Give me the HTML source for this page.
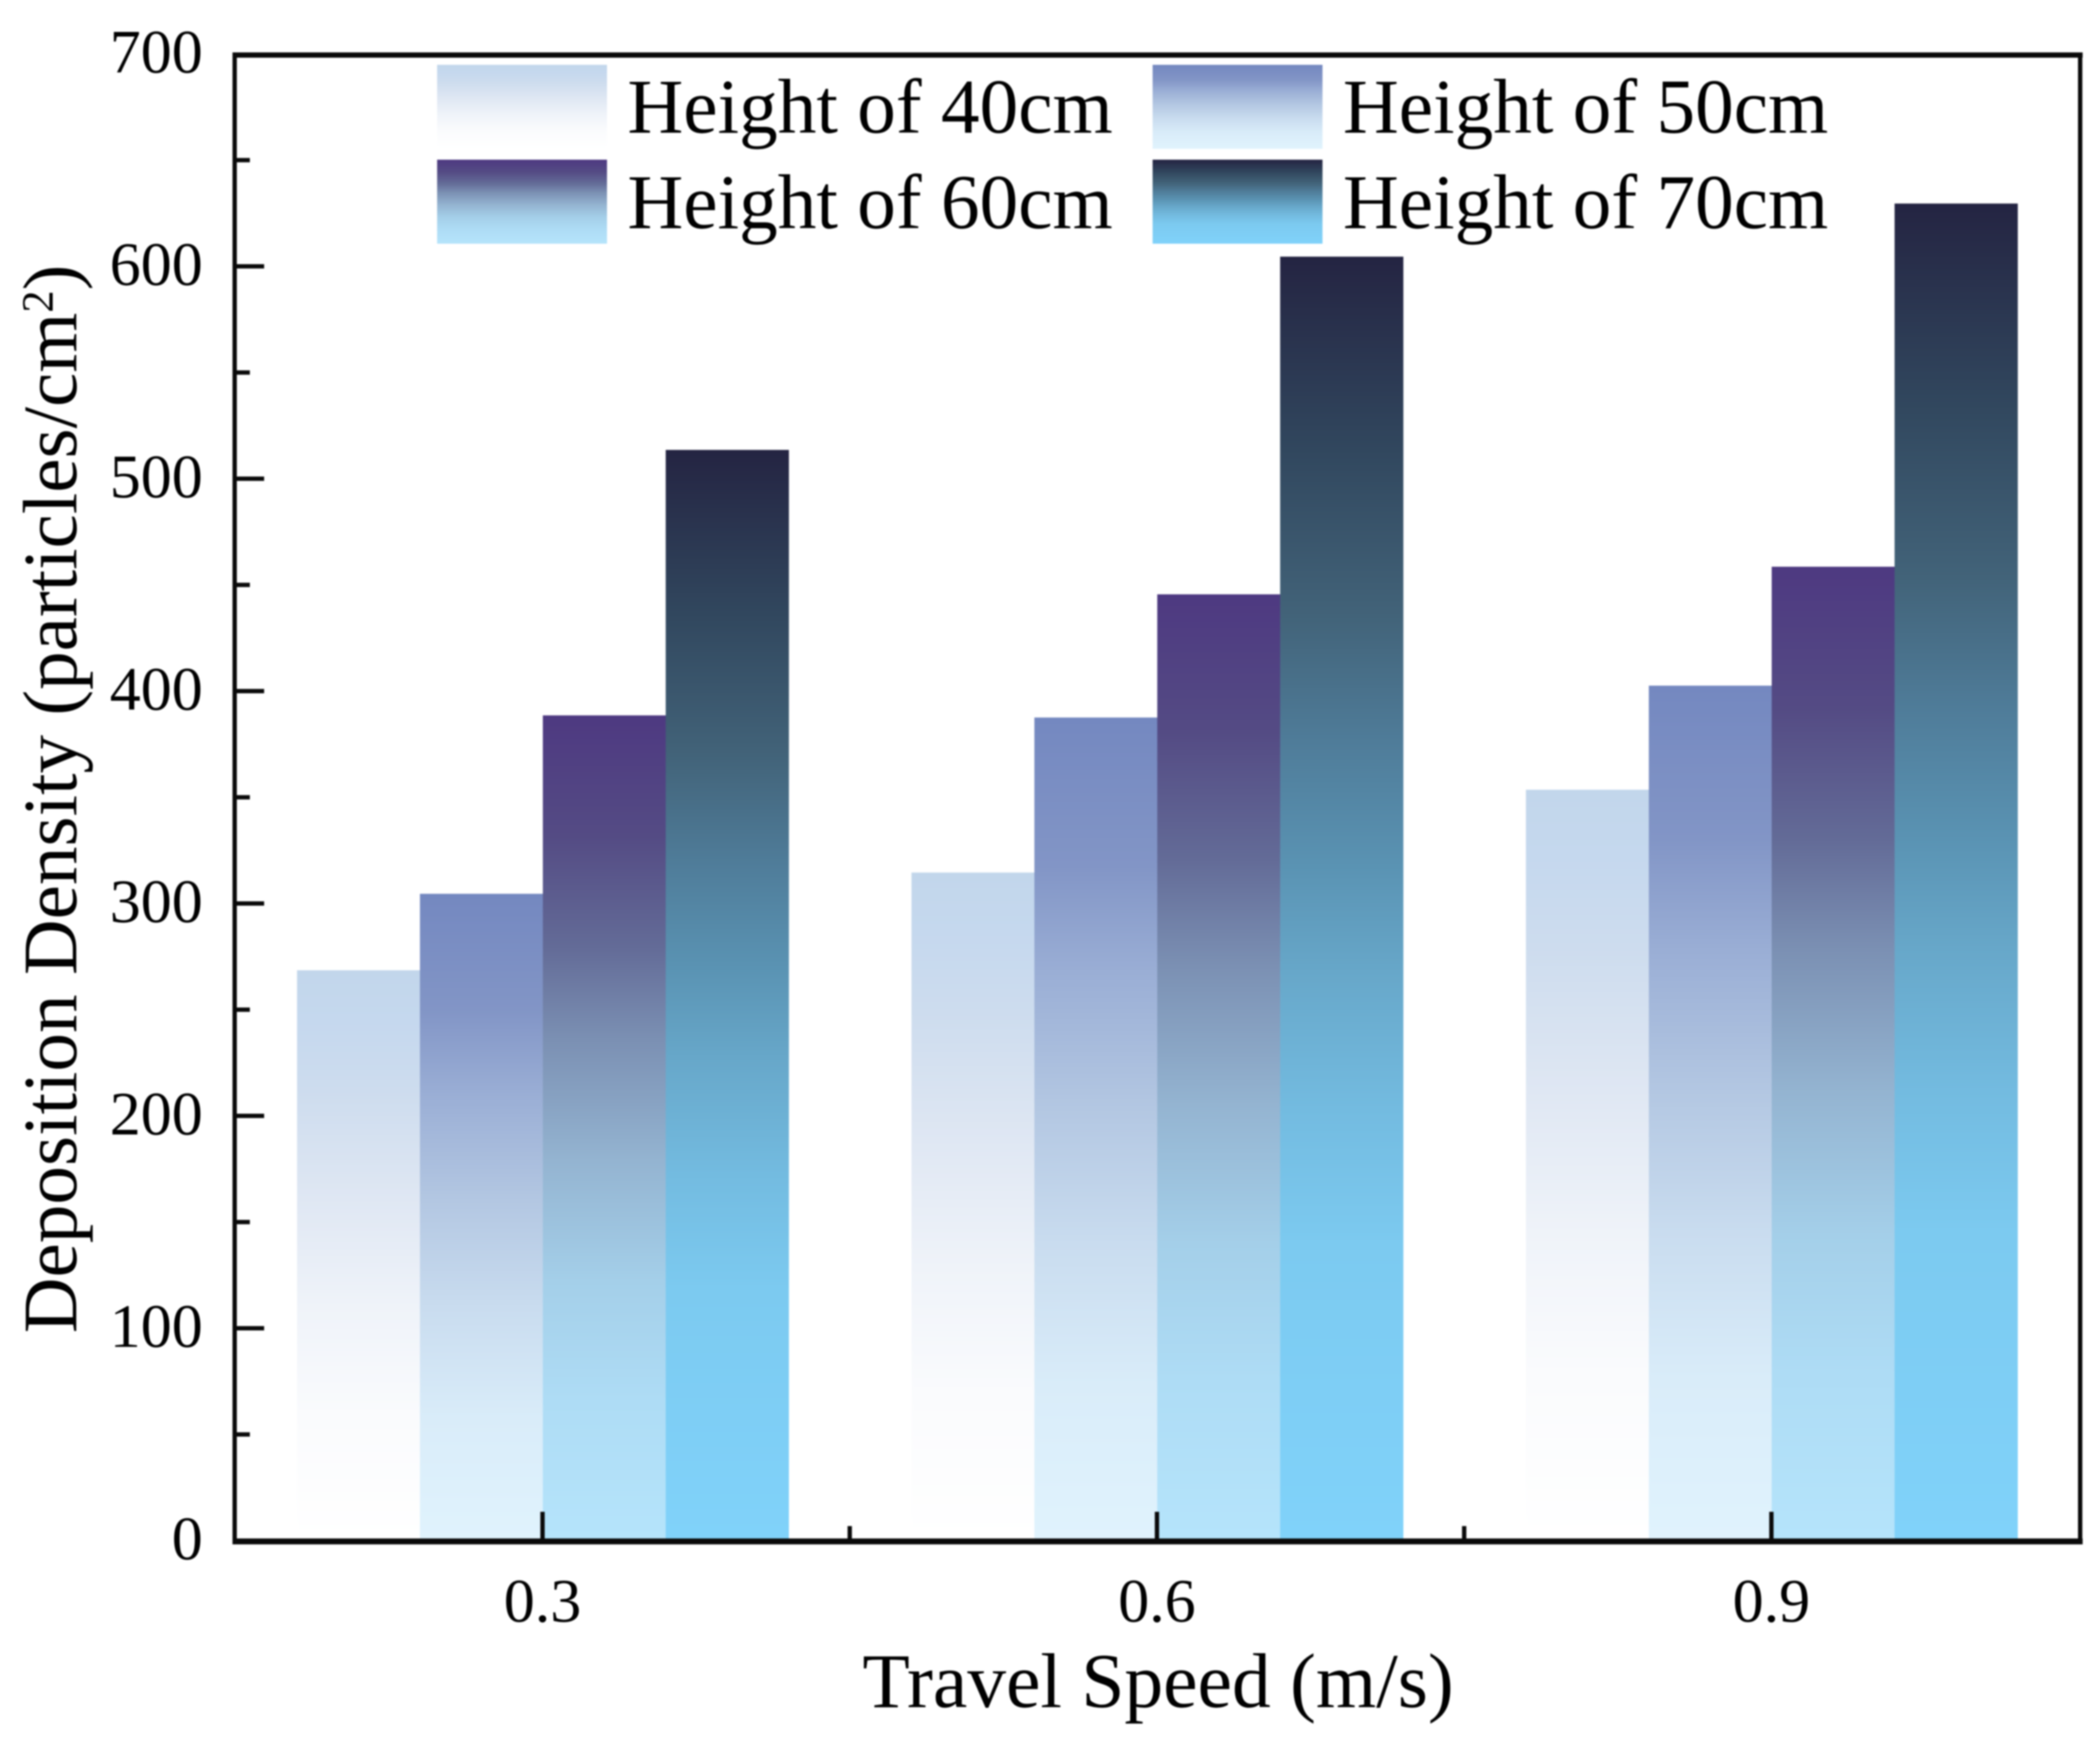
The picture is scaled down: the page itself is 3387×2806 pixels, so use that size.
<!DOCTYPE html>
<html lang="en">
<head>
<meta charset="utf-8">
<title>Deposition Density vs Travel Speed</title>
<style>
html,body{margin:0;padding:0;background:#fff;}
#chart{display:block;width:3387px;height:2806px;filter:blur(1.4px);}
text{font-family:"Liberation Serif",serif;fill:#000;}
</style>
</head>
<body>
<svg id="chart" xmlns="http://www.w3.org/2000/svg" width="3387" height="2806" viewBox="0 0 3387 2806">
  <defs id="grad-defs"></defs>
  <rect x="0" y="0" width="3387" height="2806" fill="#fff"/>
  <g id="bars"></g>
  <g id="frame">
    <rect x="375" y="84.5" width="2984" height="8.5" fill="#0a0a0a"/>
    <rect x="375" y="84.5" width="7" height="2406" fill="#0a0a0a"/>
    <rect x="3351.5" y="84.5" width="7" height="2406" fill="#0a0a0a"/>
    <rect x="375" y="2481" width="2984" height="9.5" fill="#0a0a0a"/>
  </g>
  <g id="y-ticks"></g>
  <g id="x-ticks"></g>
  <text transform="translate(123 2150) rotate(-90)" font-size="124.5">Deposition Density (particles/cm<tspan font-size="72" dy="-38">2</tspan><tspan dy="38">)</tspan></text>
  <text x="1391" y="2753" font-size="125">Travel Speed (m/s)</text>
  <g id="legend"></g>
</svg>
<script>
const categories = ['0.3', '0.6', '0.9'];
const seriesNames = ['Height of 40cm', 'Height of 50cm', 'Height of 60cm', 'Height of 70cm'];
const height40 = [269, 315, 354];
const height50 = [305, 388, 403];
const height60 = [389, 446, 459];
const height70 = [514, 605, 630];
const yTickLabels = [0, 100, 200, 300, 400, 500, 600, 700];
const yMinorTicks = [50, 150, 250, 350, 450, 550, 650];

const seriesValues = [height40, height50, height60, height70];
const gradientStops = [
  [[0,'#c2d6eb'],[0.09,'#c5d8ee'],[0.21,'#cddcee'],[0.40,'#dfe7f3'],[0.59,'#eff3f9'],[0.78,'#fafbfd'],[1,'#ffffff']],
  [[0,'#7488c0'],[0.18,'#8295c6'],[0.31,'#9aaed5'],[0.475,'#b3c7e2'],[0.64,'#c9dcef'],[0.81,'#d9ecf9'],[1,'#e0f3fd']],
  [[0,'#4e3981'],[0.146,'#544b84'],[0.28,'#636b97'],[0.393,'#7b90b3'],[0.54,'#94b4d1'],[0.686,'#a4cfe9'],[0.83,'#aedcf5'],[1,'#b5e4fb']],
  [[0,'#242442'],[0.15,'#31475e'],[0.28,'#426379'],[0.378,'#4f7c99'],[0.475,'#5a93b3'],[0.557,'#67a7c9'],[0.664,'#73bbe0'],[0.77,'#7ccaf0'],[1,'#80d2fa']]
];

const NS = 'http://www.w3.org/2000/svg';
const Y0 = 2484.5, UNITS_PX = 3.425, GROUP0 = 875, GROUP_STEP = 991, BAR_W = 198.2, BAR_TOP_SHIFT = 1.5;
function yScale(v){ return Y0 - v * UNITS_PX; }
function xScale(i){ return GROUP0 + i * GROUP_STEP; }
function make(tag, attrs, parent){
  const el = document.createElementNS(NS, tag);
  for (const k in attrs) el.setAttribute(k, attrs[k]);
  parent.appendChild(el);
  return el;
}

const defs = document.getElementById('grad-defs');
gradientStops.forEach(function(stops, s){
  const g = make('linearGradient', {id:'grad' + s, x1:0, y1:0, x2:0, y2:1}, defs);
  stops.forEach(function(st){ make('stop', {offset:st[0], 'stop-color':st[1]}, g); });
});

const barsG = document.getElementById('bars');
seriesValues.forEach(function(values, s){
  values.forEach(function(v, c){
    const top = yScale(v) + BAR_TOP_SHIFT;
    const r = make('rect', {x:xScale(c) + (s - 2) * BAR_W + 0.5, y:top, width:BAR_W + 0.5, height:Y0 - top, fill:'url(#grad' + s + ')'}, barsG);
    
    
  });
});

const yG = document.getElementById('y-ticks');
yTickLabels.forEach(function(v){
  const y = yScale(v);
  if (v > 0 && v < 700) {
    const t = make('rect', {x:378, y:y - 3.5, width:48, height:7, fill:'#0a0a0a'}, yG);
    
    
  }
  const l = make('text', {x:327, y:y + 30, 'font-size':100, 'text-anchor':'end'}, yG);
  
  
  l.textContent = String(v);
});
yMinorTicks.forEach(function(v){
  const t = make('rect', {x:378, y:yScale(v) - 3.5, width:25, height:7, fill:'#0a0a0a'}, yG);
  
  
});

const xG = document.getElementById('x-ticks');
categories.forEach(function(c, i){
  const x = xScale(i);
  const t = make('rect', {x:x - 3.5, y:2438, width:7, height:46, fill:'#0a0a0a'}, xG);
  
  
  const l = make('text', {x:x, y:2615, 'font-size':100, 'text-anchor':'middle'}, xG);
  
  
  l.textContent = c;
  if (i < categories.length - 1) {
    const m = make('rect', {x:x + GROUP_STEP / 2 - 3.5, y:2461, width:7, height:23, fill:'#0a0a0a'}, xG);
    
    
  }
});

const legendG = document.getElementById('legend');
seriesNames.forEach(function(name, s){
  const col = s % 2, row = Math.floor(s / 2);
  const sw = make('rect', {x:705 + col * 1154, y:104.5 + row * 153, width:274, height:135.5, fill:'url(#grad' + s + ')'}, legendG);
  
  
  const l = make('text', {x:1012 + col * 1154, y:214 + row * 154, 'font-size':124.7}, legendG);
  
  
  l.textContent = name;
});
</script>
</body>
</html>
